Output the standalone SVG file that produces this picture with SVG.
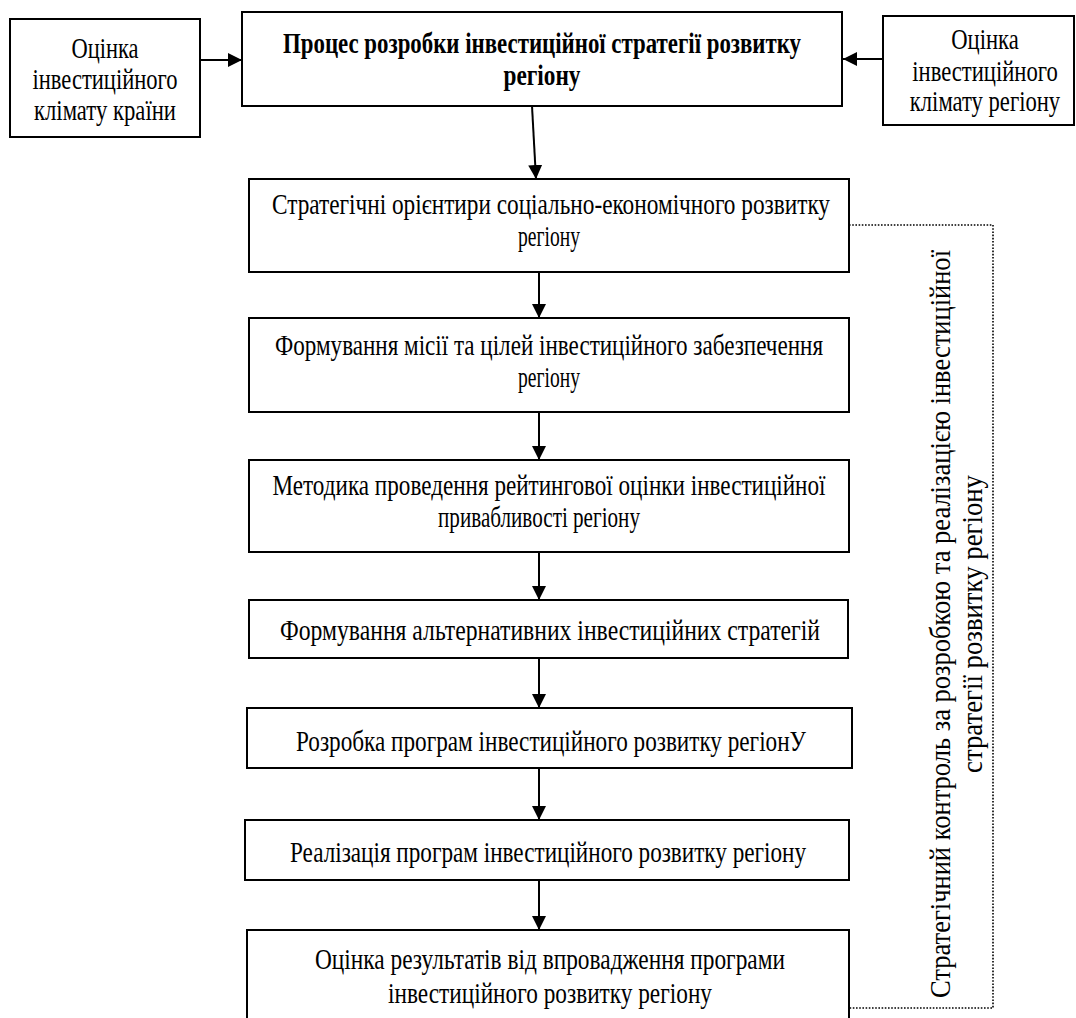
<svg xmlns="http://www.w3.org/2000/svg" width="1076" height="1018" viewBox="0 0 1076 1018">
<defs>
<style>
.box{fill:#fff;stroke:#000;stroke-width:2}
.t{font-family:"Liberation Serif","Times New Roman",serif;font-size:29px;fill:#000;text-anchor:middle}
.b{font-weight:bold}
.ln{stroke:#000;stroke-width:2;fill:none}
.dot{stroke:#000;stroke-width:1.6;fill:none;stroke-dasharray:1.6 1.6}
</style>
<marker id="ah" viewBox="0 0 10 10" refX="10" refY="5" markerWidth="7" markerHeight="7" markerUnits="strokeWidth" orient="auto">
<path d="M0,0 L10,5 L0,10 Z" fill="#000"/>
</marker>
</defs>
<rect width="1076" height="1018" fill="#fff"/>

<g id="connectors">
<line class="ln" x1="200" y1="60" x2="242" y2="60" marker-end="url(#ah)"/>
<line class="ln" x1="883" y1="59" x2="843" y2="59" marker-end="url(#ah)"/>
<line class="ln" x1="532" y1="106" x2="536" y2="179" marker-end="url(#ah)"/>
<line class="ln" x1="539" y1="272" x2="539" y2="318" marker-end="url(#ah)"/>
<line class="ln" x1="539" y1="412" x2="539" y2="460" marker-end="url(#ah)"/>
<line class="ln" x1="539" y1="552" x2="539" y2="600" marker-end="url(#ah)"/>
<line class="ln" x1="539" y1="658" x2="539" y2="708" marker-end="url(#ah)"/>
<line class="ln" x1="539" y1="768" x2="539" y2="820" marker-end="url(#ah)"/>
<line class="ln" x1="539" y1="880" x2="539" y2="930" marker-end="url(#ah)"/>
<polyline class="dot" points="849,225 993,225 993,1008 849,1008"/>
</g>

<g id="n-country">
<rect class="box" x="10" y="19" width="190" height="118"/>
<text class="t" x="105" y="58" textLength="67" lengthAdjust="spacingAndGlyphs">Оцінка</text>
<text class="t" x="105" y="89" textLength="145" lengthAdjust="spacingAndGlyphs">інвестиційного</text>
<text class="t" x="105" y="120" textLength="142" lengthAdjust="spacingAndGlyphs">клімату країни</text>
</g>

<g id="n-process">
<rect class="box" x="242" y="12" width="600" height="94"/>
<text class="t b" x="542" y="53" textLength="518" lengthAdjust="spacingAndGlyphs">Процес розробки інвестиційної стратегії розвитку</text>
<text class="t b" x="542" y="85" textLength="77" lengthAdjust="spacingAndGlyphs">регіону</text>
</g>

<g id="n-region">
<rect class="box" x="883" y="16" width="191" height="109"/>
<g transform="translate(985,0) scale(0.78,1)">
<text class="t" x="0" y="49">Оцінка</text>
<text class="t" x="0" y="81">інвестиційного</text>
<text class="t" x="0" y="111">клімату регіону</text>
</g>
</g>

<g id="n-orient">
<rect class="box" x="249" y="179" width="600" height="93"/>
<text class="t" x="551" y="214" textLength="558" lengthAdjust="spacingAndGlyphs">Стратегічні орієнтири соціально-економічного розвитку</text>
<text class="t" x="549" y="246" textLength="62" lengthAdjust="spacingAndGlyphs">регіону</text>
</g>

<g id="n-mission">
<rect class="box" x="249" y="318" width="600" height="94"/>
<text class="t" x="549" y="355" textLength="548" lengthAdjust="spacingAndGlyphs">Формування місії та цілей інвестиційного забезпечення</text>
<text class="t" x="549" y="387" textLength="62" lengthAdjust="spacingAndGlyphs">регіону</text>
</g>

<g id="n-method">
<rect class="box" x="249" y="460" width="600" height="92"/>
<text class="t" x="549" y="495" textLength="553" lengthAdjust="spacingAndGlyphs">Методика проведення рейтингової оцінки інвестиційної</text>
<text class="t" x="539" y="527" textLength="202" lengthAdjust="spacingAndGlyphs">привабливості регіону</text>
</g>

<g id="n-alt">
<rect class="box" x="249" y="600" width="599" height="58"/>
<text class="t" x="550" y="640" textLength="540" lengthAdjust="spacingAndGlyphs">Формування альтернативних інвестиційних стратегій</text>
</g>

<g id="n-develop">
<rect class="box" x="247" y="708" width="605" height="60"/>
<text class="t" x="551" y="751" textLength="510" lengthAdjust="spacingAndGlyphs">Розробка програм інвестиційного розвитку регіонУ</text>
</g>

<g id="n-implement">
<rect class="box" x="245" y="820" width="604" height="60"/>
<text class="t" x="548" y="862" textLength="516" lengthAdjust="spacingAndGlyphs">Реалізація програм інвестиційного розвитку регіону</text>
</g>

<g id="n-evaluate">
<rect class="box" x="247" y="930" width="602" height="110"/>
<text class="t" x="550" y="969" textLength="470" lengthAdjust="spacingAndGlyphs">Оцінка результатів від впровадження програми</text>
<text class="t" x="550" y="1003" textLength="324" lengthAdjust="spacingAndGlyphs">інвестиційного розвитку регіону</text>
</g>

<g id="n-control">
<text class="t" transform="translate(950,624) rotate(-90)" x="0" y="0" textLength="748" lengthAdjust="spacingAndGlyphs">Стратегічний контроль за розробкою та реалізацією інвестиційної</text>
<text class="t" transform="translate(982,624) rotate(-90)" x="0" y="0" textLength="298" lengthAdjust="spacingAndGlyphs">стратегії розвитку регіону</text>
</g>
</svg>
